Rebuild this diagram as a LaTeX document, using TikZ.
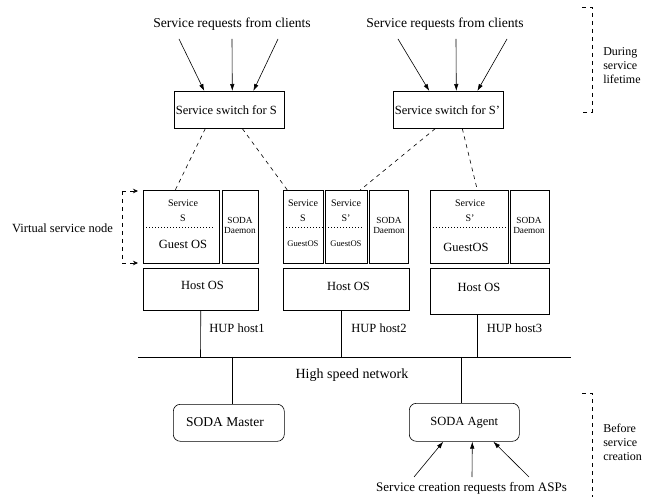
\documentclass[tikz,border=0pt]{standalone}
\usepackage{fontspec}
\setmainfont{Liberation Serif}
\usetikzlibrary{arrows.meta,calc}
\begin{document}
\begin{tikzpicture}[x=1pt,y=-1pt,line width=0.6pt,
  box/.style={draw,inner sep=0pt,anchor=north west},
  rbox/.style={box,rounded corners=7pt},
  big/.style={font=\fontsize{12.5}{14}\selectfont,inner sep=0pt},
  req/.style={font=\fontsize{13.6}{16}\selectfont,inner sep=0pt},
  huge/.style={font=\fontsize{14}{16}\selectfont,inner sep=0pt},
  small/.style={font=\fontsize{10}{12}\selectfont,inner sep=0pt},
  tiny/.style={font=\fontsize{9.3}{12}\selectfont,inner sep=0pt,align=center},
  guest/.style={font=\fontsize{8.6}{10}\selectfont,inner sep=0pt},
  side/.style={font=\fontsize{12}{14}\selectfont,inner sep=0pt,anchor=west,align=left},
  arr/.style={-{Latex[length=7pt,width=4.5pt]}},
  dsh/.style={dash pattern=on 4pt off 4pt},
  dotl/.style={dash pattern=on 1pt off 2pt,line width=0.8pt},
]
\useasboundingbox (0,0) rectangle (654,497);

% request texts
\node[req] (reqS) at (232,24) {Service requests from clients};
\node[req] (reqS2) at (445,24) {Service requests from clients};

% switches
\node[box,minimum width=110pt,minimum height=37pt] (swS) at (174,91) {};
\node[big,anchor=west] (swSt) at ([xshift=1.5pt]swS.west) {Service switch for S};
\node[box,minimum width=110pt,minimum height=37pt] (swS2) at (393,91) {};
\node[big,anchor=west] (swS2t) at ([xshift=1.5pt]swS2.west) {Service switch for S'};

% request arrows
\coordinate (r1) at (179,39); \coordinate (r2) at (232,39); \coordinate (r3) at (278,39);
\draw[arr] (r1) -- ([xshift=-25pt]swS.north);
\draw[arr] (r2) -- ([xshift=3pt]swS.north);
\draw[arr] (r3) -- ([xshift=24pt]swS.north);
\coordinate (s1) at (398,39); \coordinate (s2) at (456,39); \coordinate (s3) at (507,39);
\draw[arr] (s1) -- ([xshift=-19pt]swS2.north);
\draw[arr] (s2) -- ([xshift=8pt]swS2.north);
\draw[arr] (s3) -- ([xshift=29pt]swS2.north);

% host 1
\node[box,minimum width=76pt,minimum height=73pt] (g1) at (143,190) {};
\node[box,minimum width=36pt,minimum height=73pt] (d1) at (222,190) {};
\node[box,minimum width=115pt,minimum height=42pt] (h1) at (143,268) {};
\draw[dotl] (143,227) -- (213,227);
\node[small] (g1a) at (183,203) {Service};
\node[small] (g1b) at (183,218) {S};
\node[big] (g1c) at (183,244) {Guest OS};
\node[tiny] (d1t) at (240,225.5) {SODA\\[-1.5pt]Daemon};
\node[big] (h1t) at (202.5,285) {Host OS};
\node[big] (hup1) at (237,328) {HUP host1};

% host 2
\node[box,minimum width=40pt,minimum height=73pt] (gS) at (283,190) {};
\node[box,minimum width=42pt,minimum height=73pt] (gS2) at (325,190) {};
\node[box,minimum width=39pt,minimum height=73pt] (d2) at (369,190) {};
\node[box,minimum width=126pt,minimum height=42pt] (h2) at (283,268) {};
\draw[dotl] (283,227) -- (362,227);
\node[small] (gSa) at (303,203) {Service};
\node[small] (gSb) at (303,218) {S};
\node[guest] (gSc) at (303,244) {GuestOS};
\node[small] (gS2a) at (346,203) {Service};
\node[small] (gS2b) at (346,218) {S'};
\node[guest] (gS2c) at (346,244) {GuestOS};
\node[tiny] (d2t) at (389,225.5) {SODA\\[-1.5pt]Daemon};
\node[big] (h2t) at (348.5,286) {Host OS};
\node[big] (hup2) at (379,328) {HUP host2};

% host 3
\node[box,minimum width=78pt,minimum height=73pt] (g3) at (430,190) {};
\node[box,minimum width=39pt,minimum height=73pt] (d3) at (510,190) {};
\node[box,minimum width=119pt,minimum height=46pt] (h3) at (430,268) {};
\draw[dotl] (430,227) -- (508,227);
\node[small] (g3a) at (470,203) {Service};
\node[small] (g3b) at (470,218) {S'};
\node[big] (g3c) at (466,247) {GuestOS};
\node[tiny] (d3t) at (529,225.5) {SODA\\[-1.5pt]Daemon};
\node[big] (h3t) at (479,287) {Host OS};
\node[big] (hup3) at (514.5,328) {HUP host3};

% dashed links from switches
\draw[dsh] ([xshift=-24pt]swS.south) -- ([xshift=-6pt]g1.north);
\draw[dsh] ([xshift=13pt]swS.south) -- ([xshift=-16pt]gS.north);
\draw[dsh] ([xshift=-13pt]swS2.south) -- ([xshift=14pt]gS2.north);
\draw[dsh] ([xshift=14pt]swS2.south) -- ([xshift=8pt]g3.north);

% network
\coordinate (netL) at (138,357); \coordinate (netR) at (571,357);
\draw (netL) -- (netR);
\coordinate (n1) at (200.5,357); \coordinate (n2) at (341,357); \coordinate (n3) at (477,357);
\draw (h1.south) -- (n1);
\draw (h2.south -| n2) -- (n2);
\draw (h3.south -| n3) -- (n3);
\node[huge] (net) at (352,375) {High speed network};

% master and agent
\node[rbox,minimum width=111pt,minimum height=37pt] (master) at (173,404) {};
\node[font=\fontsize{13.5}{16}\selectfont,inner sep=0pt] (mastert) at (225,422) {SODA Master};
\node[rbox,minimum width=110pt,minimum height=38pt,big] (agent) at (409,403) {SODA Agent};
\coordinate (m1) at (232,357); \coordinate (a1) at (461,357);
\draw (m1) -- (m1 |- master.north);
\draw (a1) -- (a1 |- agent.north);

% agent requests
\coordinate (t1) at (414,477); \coordinate (t2) at (472,477); \coordinate (t3) at (529,477);
\draw[arr] (t1) -- ([xshift=-21pt]agent.south);
\draw[arr] (t2) -- ([xshift=8pt]agent.south);
\draw[arr] (t3) -- ([xshift=29pt]agent.south);
\node[font=\fontsize{13}{16}\selectfont,inner sep=0pt] (asp) at (471.5,488) {Service creation requests from ASPs};

% virtual service node
\node[big] (vsn) at (62.5,228) {Virtual service node};
\coordinate (v1) at (122,191); \coordinate (v2) at (122,263);
\draw[dsh] (v1) -- (v2);
\draw[dsh,-{Stealth[length=5pt,width=4.5pt]},shorten >=5pt] (v1) -- (g1.west |- v1);
\draw[dsh,-{Stealth[length=5pt,width=4.5pt]},shorten >=5pt] (v2) -- (g1.west |- v2);

% phase brackets
\coordinate (b1) at (592,7); \coordinate (b2) at (592,112);
\draw[dsh] ([xshift=-10pt]b1) -- (b1) -- (b2) -- ([xshift=-10pt]b2);
\node[side] (during) at (603,66) {During\\service\\lifetime};
\coordinate (c1) at (592,393); \coordinate (c2) at (592,497);
\draw[dsh] ([xshift=-10pt]c1) -- (c1) -- (c2);
\node[side] (before) at (603,442) {Before\\service\\creation};
\end{tikzpicture}
\end{document}
